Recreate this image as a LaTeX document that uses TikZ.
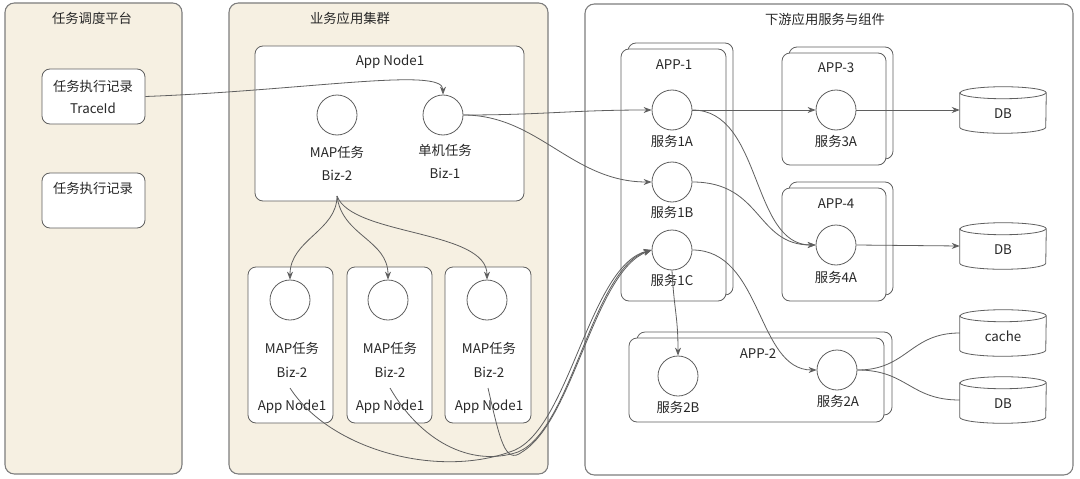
\documentclass[tikz,border=0pt]{standalone}
\usepackage{fontspec}
\setmainfont{Noto Sans CJK SC}
\usetikzlibrary{arrows.meta,fit}
\definecolor{beige}{RGB}{246,240,226}
\definecolor{bordr}{RGB}{125,125,125}
\definecolor{linec}{RGB}{95,95,95}
\definecolor{txt}{RGB}{40,40,40}
\newcommand\dbcyl[4]{%
  \path node[lbl, minimum width=64.5pt, minimum height=34.5pt] (#1) at (#2,#3) {};
  \draw[conn, fill=white] ([yshift=-4.5pt]#1.north west) -- ([yshift=4.5pt]#1.south west)
     arc[start angle=180,end angle=360,x radius=32.25pt,y radius=4.5pt]
     -- ([yshift=-4.5pt]#1.north east)
     arc[start angle=0,end angle=180,x radius=32.25pt,y radius=4.5pt] -- cycle;
  \draw[conn] ([yshift=-4.5pt]#1.north west) arc[start angle=180,end angle=360,x radius=32.25pt,y radius=4.5pt];
  \node[lbl] at ([yshift=-2.5pt]#1.center) {#4};
}
\begin{document}
\begin{tikzpicture}[x=0.75pt,y=-0.75pt, font=\fontsize{10pt}{12pt}\selectfont, text=txt,
  panel/.style={draw=bordr, line width=0.8pt, rounded corners=7pt, inner sep=0pt},
  box/.style={draw=linec, line width=0.6pt, fill=white, rounded corners=6pt, inner sep=0pt},
  svc/.style={circle, draw=linec, line width=0.6pt, fill=white, minimum size=30pt, inner sep=0pt},
  lbl/.style={inner sep=0pt, anchor=center},
  conn/.style={draw=linec, line width=0.6pt},
  arr/.style={conn, -{Stealth[length=6pt,width=4.5pt]}},
]
\useasboundingbox (0,0) rectangle (1080,478);
\fill[white] (0,0) rectangle (1080,478);

% panels
\node[panel, fill=beige, fit={(5,3) (182,474)}] (pl) {};
\node[panel, fill=beige, fit={(229,3) (548,474)}] (pm) {};
\node[panel, fill=white, fit={(585,4) (1073,475)}] (pr) {};
\node[lbl] (tl) at (92,18) {任务调度平台};
\node[lbl] (tm) at (350,18) {业务应用集群};
\node[lbl] (tr) at (825,19) {下游应用服务与组件};

% left boxes
\node[box, fit={(42,69) (145,124)}] (rec1) {};
\node[lbl] (rec1a) at (93,86) {任务执行记录};
\node[lbl] (rec1b) at (93,108) {TraceId};
\node[box, fit={(42,173) (145,228)}] (rec2) {};
\node[lbl] (rec2a) at (93,188) {任务执行记录};

% middle: App Node1
\node[box, fit={(255,46) (524,201)}] (an) {};
\node[lbl] (ant) at (390,62) {App Node1};
\node[svc] (map) at (337,115) {};
\node[lbl] (mapl1) at (337,152) {MAP任务};
\node[lbl] (mapl2) at (337,175) {Biz-2};
\node[svc] (single) at (443,115) {};
\node[lbl] (sl1) at (445,150) {单机任务};
\node[lbl] (sl2) at (445,173) {Biz-1};

% bottom three nodes
\foreach \n/\xa/\xb/\cx in {a/248/333/290, b/347/432/388, c/445/531/487}{
  \node[box, fit={(\xa,267) (\xb,423)}] (bx\n) {};
  \node[svc] (m\n) at (\cx,300) {};
  \node[lbl] (m\n l1) at (\cx+2,348) {MAP任务};
  \node[lbl] (m\n l2) at (\cx+2,372) {Biz-2};
  \node[lbl] (m\n l3) at (\cx+2,407) {App Node1};
}

% right: APP-1
\node[box, fit={(628,43) (733,295)}] (app1b) {};
\node[box, fit={(621,49) (726,301)}] (app1) {};
\node[lbl] (app1t) at (674,65) {APP-1};
\node[svc] (s1a) at (672,110) {};
\node[lbl] (s1al) at (672,141) {服务1A};
\node[svc] (s1b) at (672,182) {};
\node[lbl] (s1bl) at (672,212) {服务1B};
\node[svc] (s1c) at (672,250) {};
\node[lbl] (s1cl) at (672,280) {服务1C};

% APP-3
\node[box, fit={(789,47) (893,159)}] (app3b) {};
\node[box, fit={(782,53) (886,165)}] (app3) {};
\node[lbl] (app3t) at (836,68) {APP-3};
\node[svc] (s3a) at (836,110) {};
\node[lbl] (s3al) at (836,141) {服务3A};

% APP-4
\node[box, fit={(789,182) (893,295)}] (app4b) {};
\node[box, fit={(782,188) (886,301)}] (app4) {};
\node[lbl] (app4t) at (836,204) {APP-4};
\node[svc] (s4a) at (836,245) {};
\node[lbl] (s4al) at (836,277) {服务4A};

% APP-2
\node[box, fit={(637,332) (892,415)}] (app2b) {};
\node[box, fit={(629,338) (884,422)}] (app2) {};
\node[lbl] (app2t) at (758,354) {APP-2};
\node[svc] (s2b) at (678,376) {};
\node[lbl] (s2bl) at (678,407) {服务2B};
\node[svc] (s2a) at (837,370) {};
\node[lbl] (s2al) at (838,401) {服务2A};

% storage
\dbcyl{db1}{1003}{110}{DB}
\dbcyl{db2}{1003}{246}{DB}
\dbcyl{cache}{1003}{333}{cache}
\dbcyl{db3}{1003}{400}{DB}

% connectors
\coordinate (mapout) at (337,196);
\coordinate (ca) at (290,388);
\coordinate (cb) at (390,388);
\coordinate (cc) at (488,388);

\draw[arr] (rec1.east) .. controls +(160,-6) and +(0,-28) .. (single.north);
\draw[arr] (single.east) .. controls +(80,0) and +(-80,0) .. (s1a.west);
\draw[arr] (single.east) .. controls +(75,0) and +(-80,0) .. (s1b.west);

\draw[arr] (mapout) .. controls +(0,35) and +(0,-40) .. (ma.north);
\draw[arr] (mapout) .. controls +(5,40) and +(0,-40) .. (mb.north);
\draw[arr] (mapout) .. controls +(15,40) and +(0,-50) .. (mc.north);

\draw[arr] (ca) .. controls (330,450) and (440,480) .. (515,450) .. controls (570,425) and (590,265) .. (s1c.west);
\draw[arr] (cb) .. controls (420,440) and (470,468) .. (518,452) .. controls (572,430) and (592,268) .. (s1c.west);
\draw[arr] (cc) .. controls (500,440) and (505,465) .. (522,452) .. controls (574,420) and (594,272) .. (s1c.west);

\draw[arr] (s1a.east) -- (s3a.west);
\draw[arr] (s3a.east) -- (db1.west);
\draw[arr] (s1a.east) .. controls +(70,0) and +(-65,0) .. (s4a.west);
\draw[arr] (s1b.east) .. controls +(70,0) and +(-60,0) .. (s4a.west);
\draw[arr] (s4a.east) -- (db2.west);
\draw[arr] (s1c.east) .. controls +(70,0) and +(-60,0) .. (s2a.west);
\draw[arr] (s1c.south) .. controls +(2,40) and +(0,-40) .. (s2b.north);
\draw[conn] (s2a.east) .. controls +(50,0) and +(-50,0) .. (cache.west);
\draw[conn] (s2a.east) .. controls +(50,0) and +(-50,0) .. (db3.west);
\end{tikzpicture}
\end{document}
